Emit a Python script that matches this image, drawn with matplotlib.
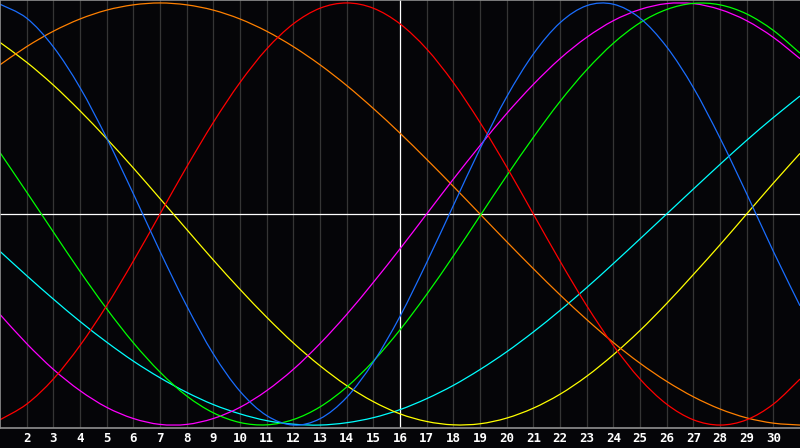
import matplotlib
matplotlib.use("Agg")
import matplotlib.pyplot as plt
from matplotlib.path import Path
from matplotlib.patches import PathPatch

days = list(range(1, 32))
tick_days = list(range(2, 31))
today = 16

blue = [0.994, 0.928, 0.792, 0.599, 0.360, 0.096, -0.177, -0.435, -0.663, -0.840,
        -0.955, -1.000, -0.970, -0.869, -0.702, -0.485, -0.230, 0.040, 0.309, 0.555,
        0.758, 0.906, 0.987, 0.994, 0.928, 0.792, 0.599, 0.360, 0.096, -0.177, -0.435]
red = [-0.975, -0.901, -0.782, -0.623, -0.434, -0.223, 0.0, 0.223, 0.434, 0.623,
       0.782, 0.901, 0.975, 1.0, 0.975, 0.901, 0.782, 0.623, 0.434, 0.223,
       0.0, -0.223, -0.434, -0.623, -0.782, -0.901, -0.975, -1.0, -0.975, -0.901, -0.782]
green = [0.291, 0.104, -0.085, -0.272, -0.449, -0.610, -0.749, -0.862, -0.942, -0.988,
         -0.999, -0.974, -0.914, -0.820, -0.697, -0.549, -0.381, -0.199, -0.009, 0.181,
         0.363, 0.533, 0.683, 0.809, 0.906, 0.969, 0.998, 0.991, 0.948, 0.870, 0.762]
magenta = [-0.476, -0.614, -0.736, -0.837, -0.916, -0.969, -0.997, -0.997, -0.969, -0.916,
           -0.837, -0.736, -0.614, -0.476, -0.324, -0.165, 0.0, 0.165, 0.324, 0.476,
           0.614, 0.736, 0.837, 0.916, 0.969, 0.997, 0.997, 0.969, 0.916, 0.837, 0.736]
orange = [0.707, 0.793, 0.866, 0.924, 0.966, 0.991, 1.0, 0.991, 0.966, 0.924,
          0.866, 0.793, 0.707, 0.609, 0.5, 0.383, 0.259, 0.131, 0.0, -0.131,
          -0.259, -0.383, -0.5, -0.609, -0.707, -0.793, -0.866, -0.924, -0.966, -0.991, -1.0]
yellow = [0.813, 0.719, 0.611, 0.489, 0.357, 0.218, 0.073, -0.073, -0.218, -0.357,
          -0.489, -0.611, -0.719, -0.813, -0.889, -0.947, -0.983, -0.999, -0.994, -0.967,
          -0.920, -0.854, -0.769, -0.667, -0.552, -0.424, -0.287, -0.146, 0.0, 0.146, 0.287]
cyan = [-0.177, -0.292, -0.403, -0.509, -0.607, -0.697, -0.776, -0.845, -0.903, -0.947,
        -0.979, -0.996, -1.0, -0.989, -0.965, -0.927, -0.875, -0.812, -0.737, -0.653,
        -0.559, -0.457, -0.349, -0.235, -0.118, 0.0, 0.118, 0.235, 0.349, 0.457, 0.559]

series = [
    (cyan, "#00ffff"),
    (yellow, "#ffff00"),
    (orange, "#ff8000"),
    (magenta, "#ff00ff"),
    (green, "#00ff00"),
    (red, "#ff0000"),
    (blue, "#1a6eff"),
]

BG = "#050508"


def smooth_path(xs, ys):
    # catmull-rom through the points, drawn as cubic bezier segments
    pts = list(zip(xs, ys))
    verts = [pts[0]]
    codes = [Path.MOVETO]
    n = len(pts)
    for i in range(n - 1):
        p0 = pts[max(i - 1, 0)]
        p1 = pts[i]
        p2 = pts[i + 1]
        p3 = pts[min(i + 2, n - 1)]
        c1 = (p1[0] + (p2[0] - p0[0]) / 6, p1[1] + (p2[1] - p0[1]) / 6)
        c2 = (p2[0] - (p3[0] - p1[0]) / 6, p2[1] - (p3[1] - p1[1]) / 6)
        verts += [c1, c2, p2]
        codes += [Path.CURVE4] * 3
    return Path(verts, codes)


fig = plt.figure(figsize=(8, 4.48), dpi=100, facecolor=BG)
ax = fig.add_axes([0, 1 - 428 / 448, 1, 428 / 448])
ax.set_facecolor(BG)

for d in tick_days:
    c = "white" if d == today else "#353535"
    ax.axvline(d, color=c, lw=0.9, zorder=1)
ax.axhline(0, color="white", lw=0.9, zorder=1)

for vals, col in series:
    ax.add_patch(PathPatch(smooth_path(days, vals), facecolor="none",
                           edgecolor=col, lw=0.9, zorder=2))

ax.set_xlim(1, 31)
ax.set_ylim(-1.014, 1.014)
ax.set_yticks([])
ax.set_xticks(tick_days)
ax.set_xticklabels([str(d) for d in tick_days], color="white",
                   fontsize=9, fontweight="bold", family="DejaVu Sans Mono")
ax.tick_params(axis="x", length=0, pad=3)

for s in ["top", "left", "bottom"]:
    ax.spines[s].set_color("#909090")
    ax.spines[s].set_linewidth(1.2)
ax.spines["right"].set_visible(False)

fig.savefig("out.png", dpi=100, facecolor=BG)
